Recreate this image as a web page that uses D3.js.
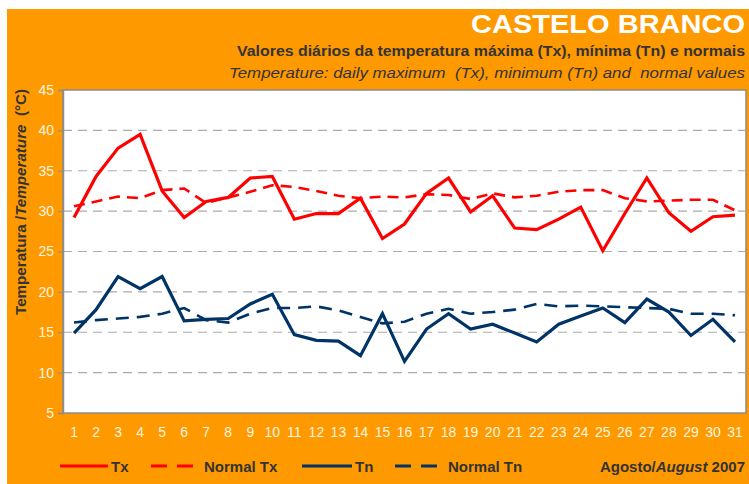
<!DOCTYPE html>
<html>
<head>
<meta charset="utf-8">
<script src="https://cdn.jsdelivr.net/npm/d3@7"></script>
<style>
  body { margin: 0; background: #fff; }
  svg { display: block; font-family: "Liberation Sans", Arial, sans-serif; }
</style>
</head>
<body>
<div id="chart"></div>
<script>
// dias do mes (Agosto 2007)
var days = d3.range(1, 32);
var yTicks = [5, 10, 15, 20, 25, 30, 35, 40, 45];

var tx = [29.2, 34.3, 37.8, 39.5, 32.5, 29.2, 31.2, 31.7, 34.1, 34.3,
          29.0, 29.7, 29.7, 31.6, 26.6, 28.4, 32.2, 34.1, 29.9, 31.9,
          27.9, 27.7, 29.0, 30.5, 25.1, 29.7, 34.1, 29.8, 27.5, 29.3, 29.5];
var normalTx = [30.6, 31.2, 31.8, 31.6, 32.6, 32.8, 31.0, 31.7, 32.4, 33.2,
                33.0, 32.5, 31.9, 31.6, 31.8, 31.7, 32.1, 32.0, 31.5, 32.2,
                31.7, 31.9, 32.4, 32.6, 32.6, 31.6, 31.2, 31.3, 31.4, 31.4, 30.1];
var tn = [14.9, 17.8, 21.9, 20.4, 21.9, 16.4, 16.6, 16.7, 18.5, 19.7,
          14.7, 14.0, 13.9, 12.1, 17.3, 11.4, 15.4, 17.3, 15.4, 16.0,
          14.9, 13.8, 16.0, 17.0, 18.0, 16.2, 19.1, 17.5, 14.6, 16.6, 13.8];
var normalTn = [16.2, 16.5, 16.7, 16.9, 17.3, 18.0, 16.5, 16.2, 17.3, 18.0,
                18.0, 18.2, 17.7, 16.9, 16.1, 16.3, 17.3, 17.9, 17.3, 17.5,
                17.8, 18.5, 18.2, 18.3, 18.2, 18.1, 18.0, 17.9, 17.3, 17.3, 17.1];

var W = 749, H = 484;
var plot = { left: 63, top: 90, right: 746, bottom: 413 };

var svg = d3.select('#chart').append('svg')
  .attr('width', W)
  .attr('height', H);

// fundo laranja
svg.append('rect')
  .attr('x', 7).attr('y', 9)
  .attr('width', W - 7).attr('height', H - 9)
  .attr('fill', '#FF9900');

var x = d3.scaleBand().domain(days).range([plot.left, plot.right]);
var y = d3.scaleLinear().domain([5, 45]).range([plot.bottom, plot.top]);

svg.append('rect')
  .attr('x', plot.left).attr('y', plot.top)
  .attr('width', plot.right - plot.left).attr('height', plot.bottom - plot.top)
  .attr('fill', '#fff')
  .attr('stroke', '#8c8c8c')
  .attr('stroke-width', 1.5);

// grelha
svg.append('g').selectAll('line')
  .data(yTicks.filter(function (d) { return d > 5 && d < 45; }))
  .enter().append('line')
  .attr('x1', plot.left).attr('x2', plot.right)
  .attr('y1', function (d) { return y(d); })
  .attr('y2', function (d) { return y(d); })
  .attr('stroke', '#ababab')
  .attr('stroke-width', 1.2)
  .attr('stroke-dasharray', '9,6');

// eixo y
var yAxis = svg.append('g')
  .attr('transform', 'translate(' + plot.left + ',0)')
  .call(d3.axisLeft(y).tickValues(yTicks).tickSize(5).tickPadding(4));
yAxis.select('.domain').attr('stroke', '#8c8c8c').attr('stroke-width', 1.5);
yAxis.selectAll('.tick line').attr('stroke', '#8c8c8c');
yAxis.selectAll('text')
  .attr('fill', '#FFF6E0')
  .style('font-size', '14px')
  .style('font-family', '"Liberation Sans Narrow", "Liberation Sans", sans-serif');

// eixo x
var xAxis = svg.append('g')
  .attr('transform', 'translate(0,' + plot.bottom + ')')
  .call(d3.axisBottom(x).tickSize(0).tickPadding(14));
xAxis.select('.domain').remove();
xAxis.selectAll('text')
  .attr('fill', '#FFF6E0')
  .style('font-size', '14px')
  .style('font-family', '"Liberation Sans Narrow", "Liberation Sans", sans-serif');

var line = function (vals) {
  return d3.line()
    .x(function (d, i) { return x(days[i]) + x.bandwidth() / 2; })
    .y(function (d) { return y(d); })(vals);
};

var series = [
  { name: 'Normal Tx', vals: normalTx, color: '#FF0000', dash: '11,7', width: 2.6 },
  { name: 'Normal Tn', vals: normalTn, color: '#003366', dash: '13,8', width: 2.6 },
  { name: 'Tx', vals: tx, color: '#FF0000', dash: null, width: 3.2 },
  { name: 'Tn', vals: tn, color: '#003366', dash: null, width: 3.2 }
];

svg.append('g').selectAll('path')
  .data(series)
  .enter().append('path')
  .attr('d', function (d) { return line(d.vals); })
  .attr('fill', 'none')
  .attr('stroke', function (d) { return d.color; })
  .attr('stroke-width', function (d) { return d.width; })
  .attr('stroke-dasharray', function (d) { return d.dash; })
  .attr('stroke-linejoin', 'miter');

// titulos
svg.append('text')
  .attr('x', 745).attr('y', 33)
  .attr('text-anchor', 'end')
  .attr('fill', '#fff')
  .attr('textLength', 274).attr('lengthAdjust', 'spacingAndGlyphs')
  .style('font-size', '25px').style('font-weight', 'bold')
  .text('CASTELO BRANCO');

svg.append('text')
  .attr('x', 745).attr('y', 56)
  .attr('text-anchor', 'end')
  .attr('fill', '#333')
  .attr('textLength', 508).attr('lengthAdjust', 'spacingAndGlyphs')
  .style('font-size', '14px').style('font-weight', 'bold')
  .text('Valores diários da temperatura máxima (Tx), mínima (Tn) e normais');

svg.append('text')
  .attr('x', 745).attr('y', 78)
  .attr('text-anchor', 'end')
  .attr('fill', '#333')
  .attr('textLength', 516).attr('lengthAdjust', 'spacingAndGlyphs')
  .style('font-size', '14px').style('font-style', 'italic')
  .attr('xml:space', 'preserve')
  .text('Temperature: daily maximum  (Tx), minimum (Tn) and  normal values');

var yTitle = svg.append('text')
  .attr('transform', 'translate(26,202) rotate(-90)')
  .attr('text-anchor', 'middle')
  .attr('fill', '#333')
  .attr('textLength', 226).attr('lengthAdjust', 'spacingAndGlyphs')
  .style('font-size', '14px').style('font-weight', 'bold')
  .attr('xml:space', 'preserve');
yTitle.append('tspan').text('Temperatura /');
yTitle.append('tspan').style('font-style', 'italic').text('Temperature');
yTitle.append('tspan').text('  (°C)');

// legenda
var legend = [
  { name: 'Tx', color: '#FF0000', dash: null, x1: 60, x2: 108, tx: 111 },
  { name: 'Normal Tx', color: '#FF0000', dash: '16,10', x1: 151, x2: 193, tx: 204 },
  { name: 'Tn', color: '#003366', dash: null, x1: 302, x2: 352, tx: 355 },
  { name: 'Normal Tn', color: '#003366', dash: '16,10', x1: 395, x2: 437, tx: 448 }
];
var lg = svg.append('g').selectAll('g').data(legend).enter().append('g');
lg.append('line')
  .attr('x1', function (d) { return d.x1; })
  .attr('x2', function (d) { return d.x2; })
  .attr('y1', 466).attr('y2', 466)
  .attr('stroke', function (d) { return d.color; })
  .attr('stroke-width', 3)
  .attr('stroke-dasharray', function (d) { return d.dash; });
lg.append('text')
  .attr('x', function (d) { return d.tx; })
  .attr('y', 472)
  .attr('fill', '#333')
  .style('font-size', '15px').style('font-weight', 'bold')
  .text(function (d) { return d.name; });

var foot = svg.append('text')
  .attr('x', 745).attr('y', 472)
  .attr('text-anchor', 'end')
  .attr('fill', '#333')
  .style('font-size', '15px').style('font-weight', 'bold');
foot.append('tspan').text('Agosto/');
foot.append('tspan').style('font-style', 'italic').text('August');
foot.append('tspan').text(' 2007');
</script>
</body>
</html>
